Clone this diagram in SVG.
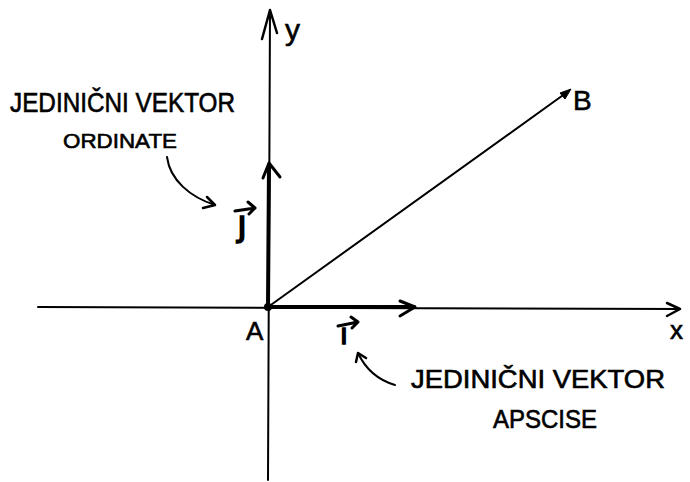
<svg xmlns="http://www.w3.org/2000/svg" width="690" height="482" viewBox="0 0 690 482">
<style>
.ax{stroke:#000;stroke-width:2;fill:none;stroke-linecap:round}
.thick{stroke:#000;stroke-width:4;fill:none;stroke-linecap:round}
.head{stroke:#000;stroke-width:2.5;fill:none;stroke-linecap:round;stroke-linejoin:round}
.lbl{font-family:"DejaVu Sans","Liberation Sans",sans-serif;fill:#000;stroke:#000;stroke-width:1.5}
.cap{font-family:"Liberation Sans",sans-serif;fill:#000;stroke:#000;stroke-width:0.6}
</style>
<rect width="690" height="482" fill="#fff"/>
<g id="connectors">
  <path class="ax" d="M38,307 L680,309"/>
  <path class="head" d="M667,303 L680,309 L667,316"/>
  <path class="ax" d="M268,480 L270,10"/>
  <path class="head" d="M262,39 L270,10 L277,33"/>
  <path class="thick" d="M268,307 L269,165"/>
  <path class="head" d="M263,178 L269,163 L280,177" style="stroke-width:3"/>
  <path class="thick" d="M268,307 L414,307"/>
  <path class="head" d="M400,301 L415,307 L400,316" style="stroke-width:3"/>
  <path class="ax" d="M268,307 L566,93"/>
  <path d="M571,89 L560,93 L565,99 Z" fill="#000" stroke="#000" stroke-width="1"/>
  <path class="ax" d="M167,157 C170,180 190,197 215,205"/>
  <path class="head" d="M207,197 L215,205 L203,208"/>
  <path class="ax" d="M395,385 C378,380 365,368 358,353"/>
  <path class="head" d="M356,362 L358,353 L366,358"/>
</g>
<g id="origin"><circle cx="268" cy="307" r="4" fill="#000"/></g>
<g id="label-A"><text class="cap" x="246" y="340" font-size="26">A</text></g>
<g id="label-B"><text class="cap" x="573" y="110" font-size="28">B</text></g>
<g id="label-x"><text class="cap" x="670" y="339" font-size="26">x</text></g>
<g id="label-y"><text class="cap" x="285" y="40" font-size="30">y</text></g>
<g id="label-j">
  <text class="lbl" x="237" y="236" font-size="36">ȷ</text>
  <path class="head" d="M235,211 L255,208 M248,202 L255,208 L249,214" style="stroke-width:3"/>
</g>
<g id="label-i">
  <text class="lbl" x="340" y="344" font-size="28">ı</text>
  <path class="head" d="M338,326 L358,322 M351,317 L358,322 L352,328" style="stroke-width:3"/>
</g>
<g id="note-ordinate">
  <text class="cap" x="10" y="112" font-size="27" textLength="225" lengthAdjust="spacingAndGlyphs">JEDINIČNI VEKTOR</text>
  <text class="cap" x="63" y="148" font-size="21" textLength="114" lengthAdjust="spacingAndGlyphs">ORDINATE</text>
</g>
<g id="note-apscise">
  <text class="cap" x="411" y="388" font-size="25" textLength="254" lengthAdjust="spacingAndGlyphs">JEDINIČNI VEKTOR</text>
  <text class="cap" x="493" y="428" font-size="25" textLength="104" lengthAdjust="spacingAndGlyphs">APSCISE</text>
</g>
</svg>
